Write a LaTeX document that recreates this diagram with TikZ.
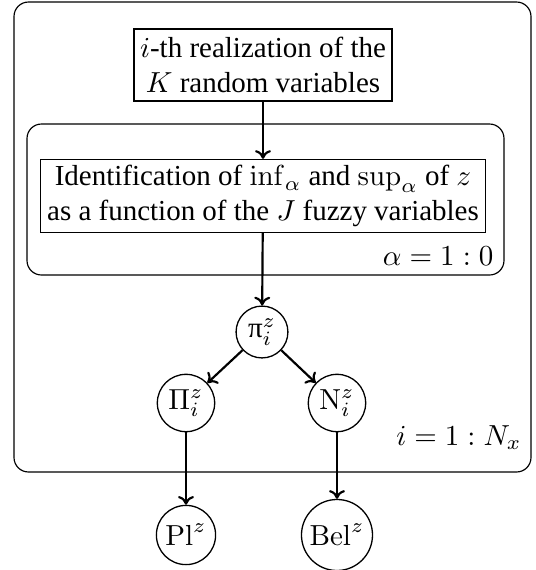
\documentclass[tikz,border=0pt]{standalone}
\usepackage[no-math]{fontspec}
\setmainfont{Liberation Serif}
\usetikzlibrary{arrows.meta}
\begin{document}
\begin{tikzpicture}[x=0.345pt,y=-0.345pt,
  frame/.style={draw, line width=0.4pt, rounded corners=5pt},
  textbox/.style={draw, line width=0.45pt, align=center, inner sep=0pt, font=\fontsize{10}{12}\selectfont},
  rv/.style={draw, circle, line width=0.45pt, inner sep=1.6pt, font=\fontsize{10}{12}\selectfont},
  flow/.style={-{To[length=3pt,width=5.5pt]}, line width=0.75pt},
  lbl/.style={inner sep=0pt, font=\fontsize{10}{12}\selectfont}]
\useasboundingbox (0,0) rectangle (536,570);
\draw[frame] (14,2) rectangle (531,472);
\draw[frame] (27,124) rectangle (504,275);
\node[textbox, minimum width=258*0.345pt, minimum height=72*0.345pt] (top) at (263,65)
  {$i$-th realization of the\\ $K$ random variables};
\node[textbox, minimum width=445*0.345pt, minimum height=73*0.345pt] (ident) at (263,196)
  {Identification of $\inf_\alpha$ and $\sup_\alpha$ of $z$\\ as a function of the $J$ fuzzy variables};
\node[lbl, anchor=base east] (alab) at (494,265) {$\alpha=1:0$};
\node[lbl, anchor=base east] (ilab) at (522,445) {$i=1:N_x$};
\node[rv] (pi) at (262,332) {π$_i^z$};
\node[rv] (Pi) at (186,403) {$\Pi_i^z$};
\node[rv] (N) at (337,403) {$\mathrm{N}_i^z$};
\node[rv] (Pl) at (186,535) {$\mathrm{Pl}^z$};
\node[rv] (Bel) at (337,535) {$\mathrm{Bel}^z$};
\draw[flow] (top) -- (ident);
\draw[flow] (ident) -- (pi);
\draw[flow] (pi) -- (Pi);
\draw[flow] (pi) -- (N);
\draw[flow] (Pi) -- (Pl);
\draw[flow] (N) -- (Bel);
\end{tikzpicture}
\end{document}
